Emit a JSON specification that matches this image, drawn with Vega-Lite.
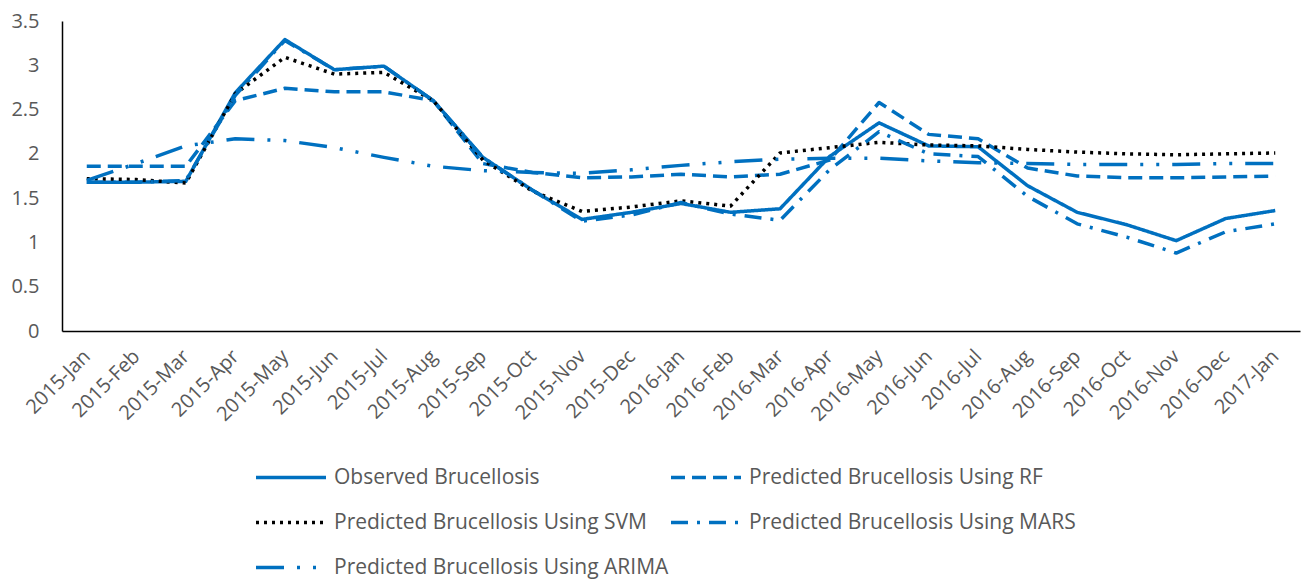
{
  "$schema": "https://vega.github.io/schema/vega-lite/v6.json",
  "width": 1238,
  "height": 310,
  "autosize": {"type": "none"},
  "padding": {"left": 62, "top": 21, "right": 13, "bottom": 248},
  "background": "white",
  "config": {
    "view": {"stroke": null},
    "font": "Open Sans"
  },
  "data": {
    "values": [
      {"month": "2015-Jan", "Observed Brucellosis": 1.68, "Predicted Brucellosis Using RF": 1.86, "Predicted Brucellosis Using SVM": 1.72, "Predicted Brucellosis Using MARS": 1.68, "Predicted Brucellosis Using ARIMA": 1.70},
      {"month": "2015-Feb", "Observed Brucellosis": 1.68, "Predicted Brucellosis Using RF": 1.86, "Predicted Brucellosis Using SVM": 1.71, "Predicted Brucellosis Using MARS": 1.68, "Predicted Brucellosis Using ARIMA": 1.89},
      {"month": "2015-Mar", "Observed Brucellosis": 1.69, "Predicted Brucellosis Using RF": 1.86, "Predicted Brucellosis Using SVM": 1.67, "Predicted Brucellosis Using MARS": 1.70, "Predicted Brucellosis Using ARIMA": 2.09},
      {"month": "2015-Apr", "Observed Brucellosis": 2.69, "Predicted Brucellosis Using RF": 2.60, "Predicted Brucellosis Using SVM": 2.68, "Predicted Brucellosis Using MARS": 2.66, "Predicted Brucellosis Using ARIMA": 2.17},
      {"month": "2015-May", "Observed Brucellosis": 3.29, "Predicted Brucellosis Using RF": 2.74, "Predicted Brucellosis Using SVM": 3.09, "Predicted Brucellosis Using MARS": 3.28, "Predicted Brucellosis Using ARIMA": 2.15},
      {"month": "2015-Jun", "Observed Brucellosis": 2.95, "Predicted Brucellosis Using RF": 2.70, "Predicted Brucellosis Using SVM": 2.90, "Predicted Brucellosis Using MARS": 2.95, "Predicted Brucellosis Using ARIMA": 2.07},
      {"month": "2015-Jul", "Observed Brucellosis": 2.99, "Predicted Brucellosis Using RF": 2.70, "Predicted Brucellosis Using SVM": 2.92, "Predicted Brucellosis Using MARS": 2.99, "Predicted Brucellosis Using ARIMA": 1.96},
      {"month": "2015-Aug", "Observed Brucellosis": 2.60, "Predicted Brucellosis Using RF": 2.60, "Predicted Brucellosis Using SVM": 2.60, "Predicted Brucellosis Using MARS": 2.60, "Predicted Brucellosis Using ARIMA": 1.86},
      {"month": "2015-Sep", "Observed Brucellosis": 1.96, "Predicted Brucellosis Using RF": 1.89, "Predicted Brucellosis Using SVM": 1.93, "Predicted Brucellosis Using MARS": 1.96, "Predicted Brucellosis Using ARIMA": 1.81},
      {"month": "2015-Oct", "Observed Brucellosis": 1.59, "Predicted Brucellosis Using RF": 1.79, "Predicted Brucellosis Using SVM": 1.58, "Predicted Brucellosis Using MARS": 1.59, "Predicted Brucellosis Using ARIMA": 1.79},
      {"month": "2015-Nov", "Observed Brucellosis": 1.26, "Predicted Brucellosis Using RF": 1.73, "Predicted Brucellosis Using SVM": 1.35, "Predicted Brucellosis Using MARS": 1.24, "Predicted Brucellosis Using ARIMA": 1.78},
      {"month": "2015-Dec", "Observed Brucellosis": 1.34, "Predicted Brucellosis Using RF": 1.74, "Predicted Brucellosis Using SVM": 1.40, "Predicted Brucellosis Using MARS": 1.31, "Predicted Brucellosis Using ARIMA": 1.82},
      {"month": "2016-Jan", "Observed Brucellosis": 1.44, "Predicted Brucellosis Using RF": 1.77, "Predicted Brucellosis Using SVM": 1.47, "Predicted Brucellosis Using MARS": 1.45, "Predicted Brucellosis Using ARIMA": 1.87},
      {"month": "2016-Feb", "Observed Brucellosis": 1.34, "Predicted Brucellosis Using RF": 1.74, "Predicted Brucellosis Using SVM": 1.41, "Predicted Brucellosis Using MARS": 1.32, "Predicted Brucellosis Using ARIMA": 1.91},
      {"month": "2016-Mar", "Observed Brucellosis": 1.38, "Predicted Brucellosis Using RF": 1.77, "Predicted Brucellosis Using SVM": 2.01, "Predicted Brucellosis Using MARS": 1.25, "Predicted Brucellosis Using ARIMA": 1.94},
      {"month": "2016-Apr", "Observed Brucellosis": 1.97, "Predicted Brucellosis Using RF": 1.93, "Predicted Brucellosis Using SVM": 2.07, "Predicted Brucellosis Using MARS": 1.82, "Predicted Brucellosis Using ARIMA": 1.95},
      {"month": "2016-May", "Observed Brucellosis": 2.35, "Predicted Brucellosis Using RF": 2.58, "Predicted Brucellosis Using SVM": 2.13, "Predicted Brucellosis Using MARS": 2.25, "Predicted Brucellosis Using ARIMA": 1.95},
      {"month": "2016-Jun", "Observed Brucellosis": 2.09, "Predicted Brucellosis Using RF": 2.22, "Predicted Brucellosis Using SVM": 2.10, "Predicted Brucellosis Using MARS": 2.00, "Predicted Brucellosis Using ARIMA": 1.92},
      {"month": "2016-Jul", "Observed Brucellosis": 2.08, "Predicted Brucellosis Using RF": 2.17, "Predicted Brucellosis Using SVM": 2.09, "Predicted Brucellosis Using MARS": 1.97, "Predicted Brucellosis Using ARIMA": 1.90},
      {"month": "2016-Aug", "Observed Brucellosis": 1.64, "Predicted Brucellosis Using RF": 1.84, "Predicted Brucellosis Using SVM": 2.05, "Predicted Brucellosis Using MARS": 1.52, "Predicted Brucellosis Using ARIMA": 1.89},
      {"month": "2016-Sep", "Observed Brucellosis": 1.34, "Predicted Brucellosis Using RF": 1.75, "Predicted Brucellosis Using SVM": 2.02, "Predicted Brucellosis Using MARS": 1.21, "Predicted Brucellosis Using ARIMA": 1.88},
      {"month": "2016-Oct", "Observed Brucellosis": 1.20, "Predicted Brucellosis Using RF": 1.73, "Predicted Brucellosis Using SVM": 2.00, "Predicted Brucellosis Using MARS": 1.06, "Predicted Brucellosis Using ARIMA": 1.88},
      {"month": "2016-Nov", "Observed Brucellosis": 1.02, "Predicted Brucellosis Using RF": 1.73, "Predicted Brucellosis Using SVM": 1.99, "Predicted Brucellosis Using MARS": 0.88, "Predicted Brucellosis Using ARIMA": 1.88},
      {"month": "2016-Dec", "Observed Brucellosis": 1.27, "Predicted Brucellosis Using RF": 1.74, "Predicted Brucellosis Using SVM": 2.00, "Predicted Brucellosis Using MARS": 1.12, "Predicted Brucellosis Using ARIMA": 1.89},
      {"month": "2017-Jan", "Observed Brucellosis": 1.36, "Predicted Brucellosis Using RF": 1.75, "Predicted Brucellosis Using SVM": 2.01, "Predicted Brucellosis Using MARS": 1.21, "Predicted Brucellosis Using ARIMA": 1.89}
    ]
  },
  "transform": [
    {"fold": ["Observed Brucellosis", "Predicted Brucellosis Using RF", "Predicted Brucellosis Using SVM", "Predicted Brucellosis Using MARS", "Predicted Brucellosis Using ARIMA"], "as": ["series", "value"]}
  ],
  "mark": {"type": "line", "strokeWidth": 3.5, "strokeJoin": "round"},
  "encoding": {
    "x": {
      "field": "month", "type": "ordinal", "sort": null,
      "scale": {"paddingInner": 0, "paddingOuter": 0.5},
      "axis": {
        "title": null, "labelAngle": -45, "labelAlign": "right", "labelBaseline": "middle",
        "labelFontSize": 20, "labelColor": "#595959", "labelPadding": 22,
        "ticks": false, "tickSize": 0, "domainColor": "#000000", "domainWidth": 1.5,
        "grid": false, "labelOverlap": false
      }
    },
    "y": {
      "field": "value", "type": "quantitative",
      "scale": {"domain": [0, 3.5], "nice": false},
      "axis": {
        "title": null, "values": [0, 0.5, 1, 1.5, 2, 2.5, 3, 3.5], "format": "~g",
        "labelFontSize": 20, "labelColor": "#595959", "labelPadding": 23,
        "ticks": false, "tickSize": 0, "domainColor": "#000000", "domainWidth": 1.5,
        "grid": false
      }
    },
    "color": {
      "field": "series", "type": "nominal",
      "scale": {
        "domain": ["Observed Brucellosis", "Predicted Brucellosis Using RF", "Predicted Brucellosis Using SVM", "Predicted Brucellosis Using MARS", "Predicted Brucellosis Using ARIMA"],
        "range": ["#0070C0", "#0070C0", "#000000", "#0070C0", "#0070C0"]
      },
      "legend": {
        "title": null, "orient": "none", "legendX": 192, "legendY": 434, "columns": 2, "direction": "horizontal",
        "symbolType": "stroke", "symbolSize": 4900, "symbolStrokeWidth": 3.5, "clipHeight": 45,
        "labelFontSize": 21, "labelColor": "#595959", "labelOffset": 6, "labelLimit": 500,
        "rowPadding": 0, "columnPadding": 0
      }
    },
    "strokeDash": {
      "field": "series", "type": "nominal",
      "scale": {
        "domain": ["Observed Brucellosis", "Predicted Brucellosis Using RF", "Predicted Brucellosis Using SVM", "Predicted Brucellosis Using MARS", "Predicted Brucellosis Using ARIMA"],
        "range": [[1, 0], [14, 7], [3, 5], [17, 9, 3, 9], [28, 13, 3, 13, 3, 13]]
      },
      "legend": {
        "title": null, "orient": "none", "legendX": 192, "legendY": 434, "columns": 2, "direction": "horizontal",
        "symbolType": "stroke", "symbolSize": 4900, "symbolStrokeWidth": 3.5, "clipHeight": 45,
        "labelFontSize": 21, "labelColor": "#595959", "labelOffset": 6, "labelLimit": 500,
        "rowPadding": 0, "columnPadding": 0
      }
    }
  }
}
